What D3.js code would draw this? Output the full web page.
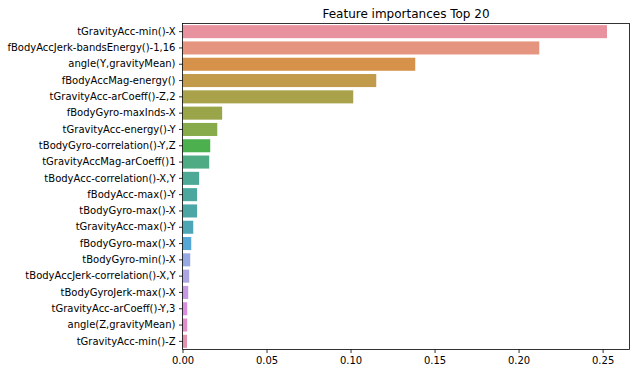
<!DOCTYPE html>
<html lang="en">
<head>
  <meta charset="UTF-8">
  <title>Feature importances Top 20</title>
  <script src="https://d3js.org/d3.v7.min.js"></script>
  <style>
    body { margin: 0; background: #fff; }
    text { font-family: "DejaVu Sans", sans-serif; fill: #000; }
  </style>
</head>
<body>
  <div id="chart"></div>

  <script>
    // Feature names (top to bottom)
    const features = [
      "tGravityAcc-min()-X",
      "fBodyAccJerk-bandsEnergy()-1,16",
      "angle(Y,gravityMean)",
      "fBodyAccMag-energy()",
      "tGravityAcc-arCoeff()-Z,2",
      "fBodyGyro-maxInds-X",
      "tGravityAcc-energy()-Y",
      "tBodyGyro-correlation()-Y,Z",
      "tGravityAccMag-arCoeff()1",
      "tBodyAcc-correlation()-X,Y",
      "fBodyAcc-max()-Y",
      "tBodyGyro-max()-X",
      "tGravityAcc-max()-Y",
      "fBodyGyro-max()-X",
      "tBodyGyro-min()-X",
      "tBodyAccJerk-correlation()-X,Y",
      "tBodyGyroJerk-max()-X",
      "tGravityAcc-arCoeff()-Y,3",
      "angle(Z,gravityMean)",
      "tGravityAcc-min()-Z"
    ];

    // Importance values
    const importances = [
      0.2526, 0.2123, 0.1385, 0.1153, 0.1016,
      0.0236, 0.0207, 0.0165, 0.0159, 0.0099,
      0.0087, 0.0087, 0.0064, 0.0052, 0.0046,
      0.0040, 0.0034, 0.0028, 0.0028, 0.0027
    ];

    const xTicks = [0, 0.05, 0.10, 0.15, 0.20, 0.25];

    // husl-like palette (desaturated, as seaborn draws bars)
    const palette = [
      "#e8929f", "#e5957f", "#d6914b", "#c19b4b", "#aaa24b",
      "#9aa54a", "#87ab4a", "#4bb04d", "#4eab84", "#4da995",
      "#4ca89e", "#4ca6a6", "#4ea5b4", "#55a7d5", "#96a9e3",
      "#aca5e3", "#c49be3", "#d98ee0", "#e08fcb", "#e291af"
    ];

    const W = 635, H = 373;
    const margin = { top: 23.5, right: 5.5, bottom: 23.5, left: 182.5 };
    const width = W - margin.left - margin.right;
    const height = H - margin.top - margin.bottom;

    const svg = d3.select("#chart")
      .append("svg")
      .attr("width", W)
      .attr("height", H);

    const g = svg.append("g")
      .attr("transform", "translate(" + margin.left + "," + margin.top + ")");

    const x = d3.scaleLinear()
      .domain([0, 0.266])
      .range([0, width]);

    const y = d3.scaleBand()
      .domain(features)
      .range([0, height])
      .paddingInner(0.2)
      .paddingOuter(0.1);

    const data = features.map((f, i) => ({ name: f, value: importances[i], color: palette[i] }));

    g.selectAll("rect.bar")
      .data(data)
      .enter().append("rect")
        .attr("class", "bar")
        .attr("x", 0)
        .attr("y", d => y(d.name))
        .attr("width", d => x(d.value))
        .attr("height", y.bandwidth())
        .attr("fill", d => d.color);

    // x axis
    const xAxis = g.append("g")
      .attr("transform", "translate(0," + height + ")")
      .call(d3.axisBottom(x).tickValues(xTicks).tickFormat(d3.format(".2f")).tickSizeOuter(0).tickSize(3.5).tickPadding(3.5));

    // y axis
    const yAxis = g.append("g")
      .call(d3.axisLeft(y).tickSizeOuter(0).tickSize(3.5).tickPadding(3.5));

    [xAxis, yAxis].forEach(a => {
      a.select(".domain").remove();
      a.selectAll("line").attr("stroke", "#000").attr("stroke-width", 0.8);
      a.selectAll("text").style("font-size", "10px").style("font-family", "DejaVu Sans, sans-serif").attr("fill", "#000");
    });

    // spines
    g.append("rect")
      .attr("x", 0).attr("y", 0)
      .attr("width", width).attr("height", height)
      .attr("fill", "none")
      .attr("stroke", "#000")
      .attr("stroke-width", 0.8);

    // title
    g.append("text")
      .attr("x", width / 2)
      .attr("y", -6)
      .attr("text-anchor", "middle")
      .style("font-size", "12px")
      .text("Feature importances Top 20");
  </script>
</body>
</html>
